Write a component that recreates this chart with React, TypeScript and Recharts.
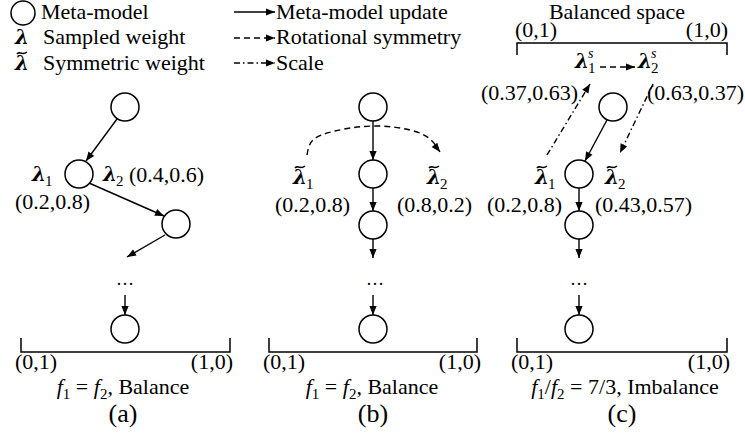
import { Scatter, ScatterChart, XAxis, YAxis } from 'recharts';

const WIDTH = 745;
const HEIGHT = 438;
const SERIF = '"Liberation Serif", "Times New Roman", serif';
const MATH = '"DejaVu Serif", serif';

// meta-model circles, three panels
const metaNodes = [
  { x: 125, y: 107 }, { x: 79, y: 174 }, { x: 176, y: 224 }, { x: 125, y: 329 },
  { x: 373, y: 107 }, { x: 373, y: 174 }, { x: 373, y: 225 }, { x: 373, y: 329 },
  { x: 613, y: 107 }, { x: 579, y: 174 }, { x: 579, y: 225 }, { x: 579, y: 329 },
];
const legendNode = [{ x: 23, y: 13 }];

// solid: meta-model update
const updateArrows = [
  { x1: 234, y1: 12, x2: 275, y2: 12 },
  { x1: 117, y1: 119, x2: 86, y2: 161 },
  { x1: 89, y1: 183, x2: 164, y2: 216 },
  { x1: 165, y1: 235, x2: 127, y2: 257 },
  { x1: 125, y1: 295, x2: 125, y2: 315 },
  { x1: 373, y1: 121, x2: 373, y2: 160 },
  { x1: 373, y1: 188, x2: 373, y2: 211 },
  { x1: 373, y1: 239, x2: 373, y2: 258 },
  { x1: 373, y1: 295, x2: 373, y2: 315 },
  { x1: 607, y1: 120, x2: 585, y2: 161 },
  { x1: 579, y1: 188, x2: 579, y2: 211 },
  { x1: 579, y1: 239, x2: 579, y2: 258 },
  { x1: 579, y1: 295, x2: 579, y2: 315 },
];
// dashed: rotational symmetry
const symmetryArrows = [
  { x1: 234, y1: 38, x2: 275, y2: 38 },
  { x1: 600, y1: 67, x2: 635, y2: 67 },
];
// dash-dot: scale
const scaleArrows = [
  { x1: 234, y1: 63, x2: 275, y2: 63 },
  { x1: 547, y1: 155, x2: 590, y2: 84 },
  { x1: 653, y1: 84, x2: 620, y2: 153 },
];
const rotationArc = [
  { x: 307, y: 155 }, { x: 313, y: 140 }, { x: 335, y: 131 }, { x: 373, y: 126 },
  { x: 410, y: 130 }, { x: 430, y: 139 }, { x: 440, y: 152 },
];
const brackets = [
  { left: 21, right: 230, base: 352, tip: 338 },
  { left: 269, right: 477, base: 352, tip: 338 },
  { left: 517, right: 727, base: 352, tip: 338 },
  { left: 517, right: 727, base: 43, tip: 55 },
];

const leftLabels = [
  { x: 41, y: 19, text: 'Meta-model' },
  { x: 43, y: 44, text: 'Sampled weight' },
  { x: 43, y: 70, text: 'Symmetric weight' },
  { x: 276, y: 19, text: 'Meta-model update' },
  { x: 276, y: 44, text: 'Rotational symmetry' },
  { x: 276, y: 70, text: 'Scale' },
  { x: 515, y: 37, text: '(0,1)' },
  { x: 481, y: 100, text: '(0.37,0.63)' },
  { x: 647, y: 100, text: '(0.63,0.37)' },
  { x: 15, y: 209, text: '(0.2,0.8)' },
  { x: 129, y: 182, text: '(0.4,0.6)' },
  { x: 275, y: 212, text: '(0.2,0.8)' },
  { x: 397, y: 212, text: '(0.8,0.2)' },
  { x: 487, y: 212, text: '(0.2,0.8)' },
  { x: 595, y: 212, text: '(0.43,0.57)' },
  { x: 15, y: 369, text: '(0,1)' },
  { x: 263, y: 369, text: '(0,1)' },
  { x: 511, y: 369, text: '(0,1)' },
];
const rightLabels = [
  { x: 728, y: 37, text: '(1,0)' },
  { x: 233, y: 369, text: '(1,0)' },
  { x: 481, y: 369, text: '(1,0)' },
  { x: 730, y: 369, text: '(1,0)' },
];
const centerLabels = [{ x: 617, y: 19, text: 'Balanced space' }];
const formulaLabels = [
  { x: 123, y: 394, text: 'f1 = f2, Balance' },
  { x: 372, y: 394, text: 'f1 = f2, Balance' },
  { x: 625, y: 394, text: 'f1/f2 = 7/3, Imbalance' },
];
const panelCaptions = [
  { x: 123, y: 422, text: '(a)' },
  { x: 373, y: 422, text: '(b)' },
  { x: 622, y: 422, text: '(c)' },
];
const ellipses = [
  { x: 125, y: 285 }, { x: 375, y: 285 }, { x: 579, y: 285 },
];
const lambdas = [
  { x: 15, y: 44, tilde: false, sub: '', sup: '' },
  { x: 15, y: 70, tilde: true, sub: '', sup: '' },
  { x: 32, y: 181, tilde: false, sub: '1', sup: '' },
  { x: 103, y: 181, tilde: false, sub: '2', sup: '' },
  { x: 293, y: 184, tilde: true, sub: '1', sup: '' },
  { x: 427, y: 184, tilde: true, sub: '2', sup: '' },
  { x: 535, y: 184, tilde: true, sub: '1', sup: '' },
  { x: 605, y: 184, tilde: true, sub: '2', sup: '' },
  { x: 575, y: 68, tilde: false, sub: '1', sup: 's' },
  { x: 638, y: 68, tilde: false, sub: '2', sup: 's' },
];

const toPoints = (a: { x1: number; y1: number; x2: number; y2: number }) => [
  { x: a.x1, y: a.y1 },
  { x: a.x2, y: a.y2, angle: Math.atan2(a.y2 - a.y1, a.x2 - a.x1) },
];

const n = rotationArc.length;
const arcPoints = rotationArc.map((p, i) =>
  i === n - 1
    ? { ...p, angle: Math.atan2(p.y - rotationArc[n - 2].y, p.x - rotationArc[n - 2].x) }
    : p,
);

const Empty = () => <g />;

const ArrowHead = (props: any) => {
  const { cx, cy, payload } = props;
  if (payload?.angle === undefined) return <g />;
  const a = payload.angle;
  const len = 9;
  const hw = 3.6;
  const bx = cx - len * Math.cos(a);
  const by = cy - len * Math.sin(a);
  const px = -Math.sin(a) * hw;
  const py = Math.cos(a) * hw;
  return <polygon points={`${cx},${cy} ${bx + px},${by + py} ${bx - px},${by - py}`} fill="#000" />;
};

const Node = (r: number) => (props: any) =>
  <circle cx={props.cx} cy={props.cy} r={r} fill="#fff" stroke="#000" strokeWidth={1.5} />;

const Label = (anchor: 'start' | 'middle' | 'end', size = 22) => (props: any) => (
  <text x={props.cx} y={props.cy} textAnchor={anchor} fontFamily={SERIF} fontSize={size} fill="#000">
    {props.payload.text}
  </text>
);

// "f1" -> italic f with subscript digit
const Formula = (props: any) => {
  const parts: string[] = String(props.payload.text).split(/(f[12])/).filter(Boolean);
  const spans: any[] = [];
  let shift = 0;
  parts.forEach((p, i) => {
    if (/^f[12]$/.test(p)) {
      spans.push(<tspan key={`${i}f`} fontStyle="italic" dy={-shift}>f</tspan>);
      spans.push(<tspan key={`${i}s`} fontSize={15} dy={5}>{p[1]}</tspan>);
      shift = 5;
    } else {
      spans.push(<tspan key={`${i}t`} dy={-shift}>{p}</tspan>);
      shift = 0;
    }
  });
  return (
    <text x={props.cx} y={props.cy} textAnchor="middle" fontFamily={SERIF} fontSize={22} fill="#000">
      {spans}
    </text>
  );
};

const Dots = (props: any) => (
  <text x={props.cx} y={props.cy} textAnchor="middle" fontFamily={SERIF} fontSize={18} fill="#000">
    …
  </text>
);

// bold lambda with optional tilde, subscript and superscript, as one text
const Lambda = (props: any) => {
  const { cx, cy, payload } = props;
  return (
    <g fill="#000">
      <text x={cx} y={cy} fontFamily={MATH} fontWeight="bold" fontStyle="italic" fontSize={20}>
        λ
        {payload.sub && (
          <tspan x={cx + 13} dy={5} fontFamily={SERIF} fontWeight="normal" fontStyle="normal" fontSize={15}>
            {payload.sub}
          </tspan>
        )}
        {payload.sup && (
          <tspan x={cx + 13} dy={-15} fontFamily={SERIF} fontWeight="normal" fontStyle="italic" fontSize={14}>
            {payload.sup}
          </tspan>
        )}
      </text>
      {payload.tilde && (
        <path
          d={`M ${cx + 2} ${cy - 16} C ${cx + 4} ${cy - 19.5}, ${cx + 7} ${cy - 14}, ${cx + 12} ${cy - 18}`}
          fill="none"
          stroke="#000"
          strokeWidth={1.6}
        />
      )}
    </g>
  );
};

const lineStyle = (dash?: string) => ({ stroke: '#000', strokeWidth: 1.4, strokeDasharray: dash });

export default function App() {
  return (
    <div style={{ position: 'absolute', left: 0, top: 0, background: '#fff' }}>
      <ScatterChart width={WIDTH} height={HEIGHT} margin={{ top: 0, right: 0, bottom: 0, left: 0 }}>
        <XAxis type="number" dataKey="x" domain={[0, WIDTH]} allowDataOverflow hide />
        <YAxis type="number" dataKey="y" domain={[0, HEIGHT]} allowDataOverflow reversed hide />

        {brackets.map((b, i) => (
          <Scatter
            key={`br${i}`}
            data={[
              { x: b.left, y: b.tip },
              { x: b.left, y: b.base },
              { x: b.right, y: b.base },
              { x: b.right, y: b.tip },
            ]}
            line={{ stroke: '#000', strokeWidth: 1.5 }}
            shape={Empty}
            isAnimationActive={false}
          />
        ))}

        {updateArrows.map((a, i) => (
          <Scatter key={`u${i}`} data={toPoints(a)} line={lineStyle()} shape={ArrowHead} fill="#000" isAnimationActive={false} />
        ))}
        {symmetryArrows.map((a, i) => (
          <Scatter key={`s${i}`} data={toPoints(a)} line={lineStyle('6 4')} shape={ArrowHead} fill="#000" isAnimationActive={false} />
        ))}
        {scaleArrows.map((a, i) => (
          <Scatter key={`c${i}`} data={toPoints(a)} line={lineStyle('6 3 1.5 3')} shape={ArrowHead} fill="#000" isAnimationActive={false} />
        ))}
        <Scatter
          data={arcPoints}
          line={lineStyle('6 4')}
          lineJointType="natural"
          shape={ArrowHead}
          fill="#000"
          isAnimationActive={false}
        />

        <Scatter data={metaNodes} shape={Node(14)} isAnimationActive={false} />
        <Scatter data={legendNode} shape={Node(12)} isAnimationActive={false} />

        <Scatter data={leftLabels} shape={Label('start')} isAnimationActive={false} />
        <Scatter data={rightLabels} shape={Label('end')} isAnimationActive={false} />
        <Scatter data={centerLabels} shape={Label('middle')} isAnimationActive={false} />
        <Scatter data={panelCaptions} shape={Label('middle', 26)} isAnimationActive={false} />
        <Scatter data={formulaLabels} shape={Formula} isAnimationActive={false} />
        <Scatter data={ellipses} shape={Dots} isAnimationActive={false} />
        <Scatter data={lambdas} shape={Lambda} isAnimationActive={false} />
      </ScatterChart>
    </div>
  );
}
